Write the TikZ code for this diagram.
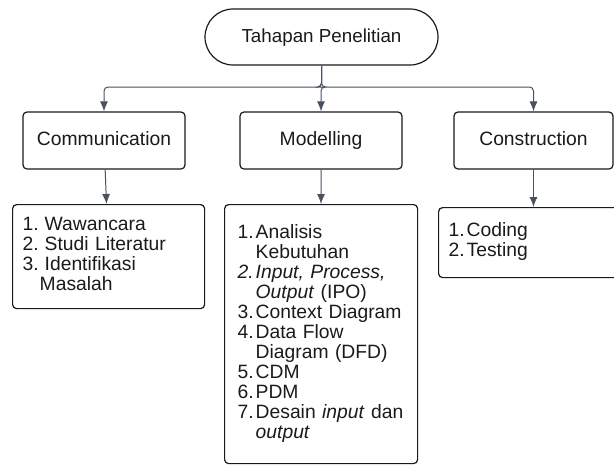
\documentclass[tikz,border=0pt]{standalone}
\usepackage{fontspec}
\setmainfont{Liberation Sans}
\usetikzlibrary{arrows.meta,positioning}

\definecolor{ink}{HTML}{1A1A1A}
\definecolor{wire}{HTML}{4A5262}

\tikzset{
  box/.style={draw=ink, line width=1.2pt, rounded corners=4pt, text=ink, inner sep=0pt},
  stage/.style={box, minimum width=162pt, minimum height=57pt, text height=14pt, text depth=4pt,
    font=\fontsize{19.3}{20}\selectfont},
  list/.style={box, align=left, inner xsep=10pt, font=\fontsize{19.3}{20}\selectfont},
  arr/.style={draw=wire, line width=1pt, rounded corners=4pt, -{Latex[length=10pt,width=8pt]}}
}

\begin{document}
\begin{tikzpicture}[x=1pt,y=-1pt]
\useasboundingbox (0,0) rectangle (614,464);

% top
\node[box, rounded corners=28pt, minimum width=233pt, minimum height=56pt, text height=14pt, text depth=4pt,
  font=\fontsize{18.8}{20}\selectfont] (top) at (321.5,37) {Tahapan Penelitian};
\coordinate (split) at (321.5,87);

% stages
\node[stage] (comm) at (104,140.5) {Communication};
\node[stage] (model) at (321,140.5) {Modelling};
\node[stage, minimum width=159pt] (constr) at (533.5,140.5) {Construction};

% lists
\node[list, text width=172pt, minimum height=104pt, anchor=north west] (commlist) at (12,204) {%
  \begin{tabular}{@{}l@{\hspace{6pt}}l@{}}
  1. & Wawancara\\
  2. & Studi Literatur\\
  3. & Identifikasi\\
     & \hspace{-5pt}Masalah
  \end{tabular}};
\node[list, inner xsep=13pt, text width=167pt, minimum height=259pt, anchor=north west] (modellist) at (224,204) {%
  \begin{tabular}{@{}l@{\hspace{2pt}}l@{}}
  1. & Analisis\\
     & Kebutuhan\\
  \textit{2.} & \textit{Input, Process,}\\
     & \textit{Output} (IPO)\\
  3. & Context Diagram\\
  4. & Data Flow\\
     & Diagram (DFD)\\
  5. & CDM\\
  6. & PDM\\
  7. & Desain \textit{input} dan\\
     & \textit{output}
  \end{tabular}};
\node[list, text width=170pt, minimum height=70pt, anchor=north west] (constrlist) at (438,207) {%
  \begin{tabular}{@{}l@{\hspace{2pt}}l@{}}
  1. & Coding\\
  2. & Testing
  \end{tabular}};

% connectors
\draw[arr] (top) -- (split) -| (comm);
\draw[arr] (top) -- (split) -| (model);
\draw[arr] (top) -- (split) -| (constr);
\draw[arr] (comm) -- (commlist);
\draw[arr] (model) -- (modellist);
\draw[arr] (constr.south) -- (constr.south |- constrlist.north);
\end{tikzpicture}
\end{document}
